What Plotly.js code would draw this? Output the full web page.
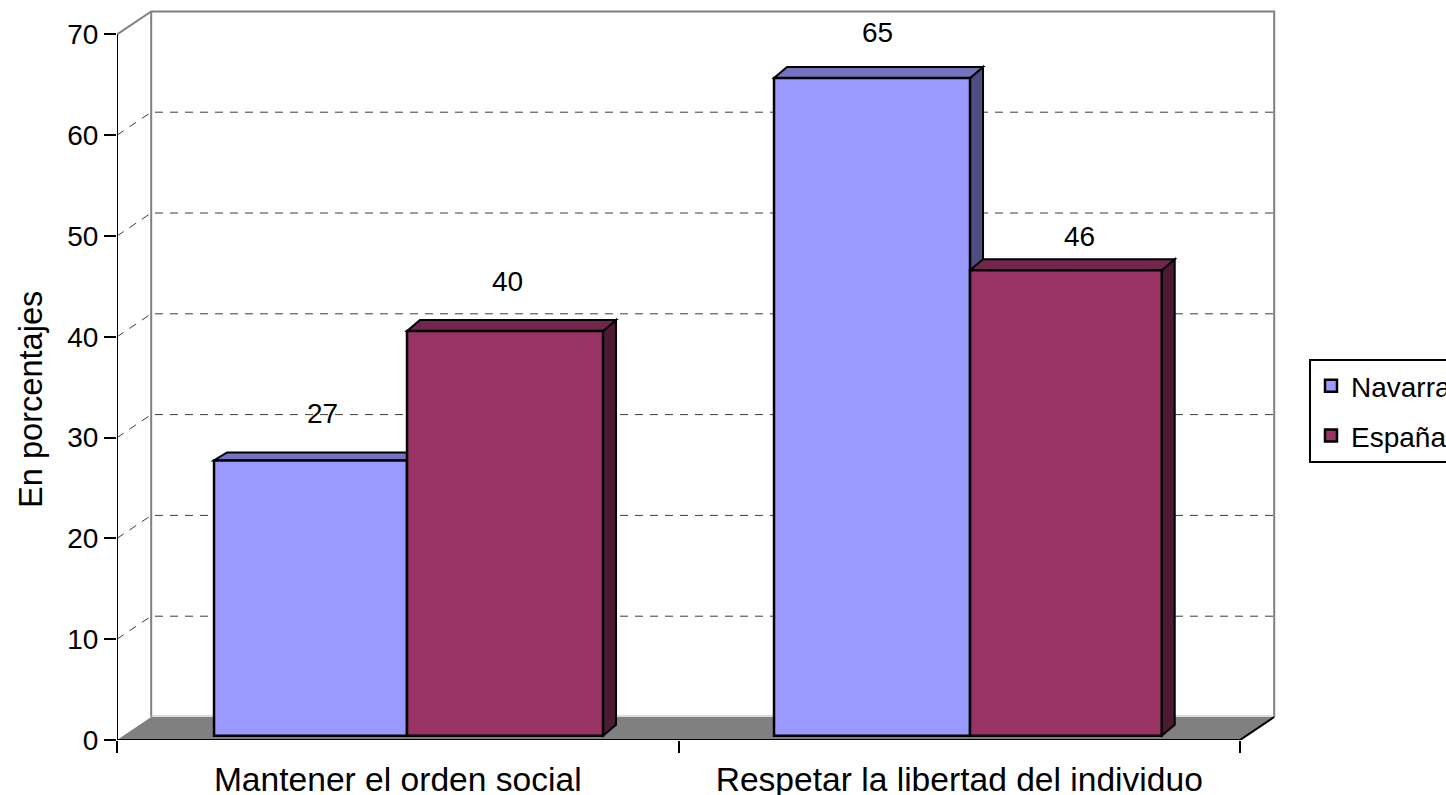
<!DOCTYPE html>
<html>
<head>
<meta charset="utf-8">
<script src="https://cdn.plot.ly/plotly-3.0.1.min.js"></script>
<style>html,body{margin:0;padding:0;background:#fff;overflow:hidden;width:1446px;height:795px}</style>
</head>
<body>
<div id="chart"></div>
<script>
// ---- data ----
const categories = ["Mantener el orden social", "Respetar la libertad del individuo"];
const navarra = [27.2, 65];
const espana = [40, 46];
const seriesNames = ["Navarra", "España"];
const yTicks = [0, 10, 20, 30, 40, 50, 60, 70];
const yTitle = "En porcentajes";

// ---- frame geometry ----
const W = 1520, H = 795, L = 117, R = 1280, T = 8, B = 740;
const pxX = 561.5, pxY = 10.08, pxBar = 10.12, barBasePx = 735.7;
const xIdx = categories.map((_, i) => i);
const x0 = -0.5, x1 = 1.5;
const dx = 34.2 / pxX, dy = 23 / pxY;          // wall depth
const bdx = 13 / pxX;                            // bar depth (x)
const yMax = (B - T) / pxY;

// bar geometry
const navOffset = [-0.3272, -0.3299], navWidth = [0.3437, 0.3491];
const espOffset = [0.0165, 0.0192], espWidth = [0.3491, 0.3414];
const navTopDepth = [8, 11], espTopDepth = [11, 11];
const navLabelShift = [[12, 47], [5, 45]], espLabelShift = [[2, 49], [14, 34]];

const colors = {
  nav: {front: "#9999FF", top: "#7373BF", side: "#4D4D80"},
  esp: {front: "#993366", top: "#73264D", side: "#4D1A33"}
};

const poly = (pts) => "M" + pts.map(p => p[0] + "," + p[1]).join("L") + "Z";
const shapes = [];
// walls
const grayLine = {color: "#808080", width: 2};
shapes.push({type: "path", layer: "below", xref: "x", yref: "y",
  path: `M${x0},70L${x0 + dx},${70 + dy}L${x1 + dx},${70 + dy}L${x1 + dx},${dy}`, line: grayLine});
shapes.push({type: "line", layer: "below", xref: "x", yref: "y", x0: x0 + dx, x1: x0 + dx, y0: dy, y1: 70 + dy, line: grayLine});
// floor
shapes.push({type: "path", layer: "below", xref: "x", yref: "y",
  path: poly([[x0, 0], [x0 + dx, dy], [x1 + dx, dy], [x1, 0]]), fillcolor: "#808080", line: {width: 0}});
shapes.push({type: "line", layer: "below", xref: "x", yref: "y", x0: x0 + dx, x1: x1 + dx, y0: dy + 0.1, y1: dy + 0.1, line: {color: "#BBBBBB", width: 1}});
shapes.push({type: "line", layer: "below", xref: "x", yref: "y", x0: x1, x1: x1 + dx, y0: 0, y1: dy, line: {color: "#000", width: 2}});
// grid lines on the wall
yTicks.filter(v => v > 0 && v < 70).forEach(v => {
  shapes.push({type: "path", layer: "below", xref: "x", yref: "y",
    path: `M${x0},${v}L${x0 + dx},${v + dy}L${x1 + dx},${v + dy}`,
    line: {color: "#3c3c3c", width: 1, dash: "8px,7px"}});
});
// bar depth faces
function depthFaces(vals, offs, wids, depths, c) {
  vals.forEach((v, i) => {
    const a = xIdx[i] + offs[i], b = a + wids[i], d = depths[i] / pxBar, d0 = 11 / pxBar;
    const ln = {color: "#000", width: 2};
    shapes.push({type: "path", layer: "below", xref: "x", yref: "y2",
      path: poly([[b, 0], [b + bdx, d0], [b + bdx, v + d], [b, v]]), fillcolor: c.side, line: ln});
    shapes.push({type: "path", layer: "below", xref: "x", yref: "y2",
      path: poly([[a, v], [a + bdx, v + d], [b + bdx, v + d], [b, v]]), fillcolor: c.top, line: ln});
  });
}
depthFaces(navarra, navOffset, navWidth, navTopDepth, colors.nav);
depthFaces(espana, espOffset, espWidth, espTopDepth, colors.esp);

// data labels
const annotations = [];
function labels(vals, offs, wids, shift) {
  vals.forEach((v, i) => annotations.push({
    xref: "x", yref: "y2", x: xIdx[i] + offs[i] + wids[i] / 2, y: v,
    xshift: shift[i][0], yshift: shift[i][1], showarrow: false,
    text: String(Math.round(v)), font: {size: 28, color: "#000"}
  }));
}
labels(navarra, navOffset, navWidth, navLabelShift);
labels(espana, espOffset, espWidth, espLabelShift);
annotations.push({xref: "paper", yref: "paper", xanchor: "center", yanchor: "middle",
  x: (31 - L) / (R - L), y: (B - 400) / (B - T), text: yTitle, textangle: -90, showarrow: false,
  font: {size: 32.6, color: "#000"}});

const barLine = {color: "#000", width: 2.5};
const traces = [
  {type: "bar", name: seriesNames[0], x: xIdx, y: navarra, yaxis: "y2", offset: navOffset, width: navWidth,
   marker: {color: colors.nav.front, line: barLine}, legendgroup: "a", hoverinfo: "skip"},
  {type: "bar", name: seriesNames[1], x: xIdx, y: espana, yaxis: "y2", offset: espOffset, width: espWidth,
   marker: {color: colors.esp.front, line: barLine}, legendgroup: "b", hoverinfo: "skip"},
  {type: "scatter", mode: "lines", x: [x0, x0], y: [0, 70], cliponaxis: false, showlegend: false,
   line: {color: "#000", width: 2}, hoverinfo: "skip"},
  {type: "scatter", mode: "lines", x: [x0, x1], y: [0, 0], cliponaxis: false, showlegend: false,
   line: {color: "#000", width: 2}, hoverinfo: "skip"}
];

const layout = {
  width: W, height: H,
  margin: {l: L, r: W - R, t: T, b: H - B, pad: 0},
  paper_bgcolor: "#fff", plot_bgcolor: "rgba(0,0,0,0)",
  font: {family: '"Liberation Sans", Arial, sans-serif', color: "#000", size: 24},
  barmode: "overlay",
  xaxis: {
    type: "linear", range: [x0, x0 + (R - L) / pxX], showgrid: false, zeroline: false, showline: false,
    tickmode: "array", tickvals: xIdx, ticktext: categories, ticks: "outside", ticklen: 12, tickwidth: 1,
    tickcolor: "rgba(0,0,0,0)", tickfont: {size: 33.6}, ticklabelstandoff: -2,
    minor: {tickmode: "array", tickvals: [x0, 0.5, x1], ticks: "outside", ticklen: 12, tickwidth: 2, tickcolor: "#000", showgrid: false}
  },
  yaxis: {
    range: [0, yMax], showgrid: false, zeroline: false, showline: false,
    tickmode: "array", tickvals: yTicks, ticks: "outside", ticklen: 12, tickwidth: 2, tickcolor: "#000",
    tickfont: {size: 28}
  },
  yaxis2: {
    overlaying: "y", side: "left", visible: false,
    range: [(barBasePx - B) / pxBar, (barBasePx - T) / pxBar], showgrid: false, zeroline: false
  },
  legend: {
    x: (1309 - L) / (R - L), y: (B - 359) / (B - T), xanchor: "left", yanchor: "top",
    bgcolor: "#fff", bordercolor: "#000", borderwidth: 2, font: {size: 28},
    traceorder: "grouped", tracegroupgap: 10.5
  },
  shapes, annotations
};
Plotly.newPlot("chart", traces, layout, {displayModeBar: false, responsive: false});
</script>
</body>
</html>
